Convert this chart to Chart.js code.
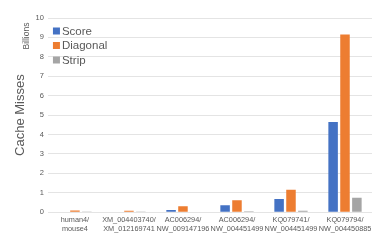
<!DOCTYPE html>
<html><head><meta charset="utf-8">
<script src="https://cdn.jsdelivr.net/npm/chart.js@4/dist/chart.umd.min.js"></script>
<style>html,body{margin:0;padding:0;background:#fff}#w{width:380px;height:247px}</style>
</head><body><div id="w"><canvas id="c"></canvas></div>
<script>
const categories = [["human4/","mouse4"],["XM_004403740/","XM_012169741"],["AC006294/","NW_009147196"],["AC006294/","NW_004451499"],["KQ079741/","NW_004451499"],["KQ079794/","NW_004450885"]];
const score = [0.03, 0.03, 0.11, 0.36, 0.68, 4.65];
const diagonal = [0.09, 0.07, 0.31, 0.62, 1.16, 9.15];
const strip = [0.01, 0.01, 0.03, 0.05, 0.07, 0.75];
const yTicks = [0,1,2,3,4,5,6,7,8,9,10];
const font = "'Liberation Sans', Arial, sans-serif";
const grey = '#595959';
const extras = {
  id:'extras',
  afterDraw(chart){
    const ctx = chart.ctx, a = chart.chartArea;
    ctx.save();
    ctx.fillStyle = grey;
    ctx.font = "8.5px " + font;
    ctx.translate(26.5, 36);
    ctx.rotate(-Math.PI/2);
    ctx.textAlign='center'; ctx.textBaseline='middle';
    ctx.fillText('Billions', 0, 0);
    ctx.restore();
    // legend inside the plot area, built from the datasets
    ctx.save();
    ctx.font = "11.5px " + font;
    ctx.textBaseline = 'middle';
    chart.data.datasets.forEach((ds, i) => {
      const y = a.top + 13 + i * 14.5;
      const x = a.left + 5;
      ctx.fillStyle = ds.backgroundColor;
      ctx.fillRect(x, y - 3.5, 7, 7);
      ctx.fillStyle = grey;
      ctx.fillText(ds.label, x + 9, y + 0.5);
    });
    ctx.restore();
  }
};
new Chart(document.getElementById('c'), {
  type:'bar',
  data:{labels:categories, datasets:[
    {label:'Score', data:score, backgroundColor:'#4472C4'},
    {label:'Diagonal', data:diagonal, backgroundColor:'#ED7D31'},
    {label:'Strip', data:strip, backgroundColor:'#A5A5A5'}
  ]},
  options:{
    responsive:true, maintainAspectRatio:false, animation:false,
    layout:{padding:{left:5, right:8, top:18, bottom:10}},
    datasets:{bar:{categoryPercentage:0.66, barPercentage:0.8}},
    plugins:{
      legend:{display:false},
      tooltip:{enabled:false}
    },
    scales:{
      x:{grid:{display:false, drawTicks:false}, border:{display:false},
         ticks:{font:{family:font,size:7.3, lineHeight:1.15}, color:grey, maxRotation:0, autoSkip:false, padding:4}},
      y:{min:0, max:10, border:{display:false},
         afterBuildTicks(s){ s.ticks = yTicks.map(v=>({value:v})); },
         grid:{color:'#E4E4E4', drawTicks:false},
         ticks:{font:{family:font,size:7.5}, color:grey, padding:4},
         title:{display:true, text:'Cache Misses', font:{family:font,size:13}, color:grey, padding:{top:8,bottom:3}}}
    }
  },
  plugins:[extras]
});
</script></body></html>
